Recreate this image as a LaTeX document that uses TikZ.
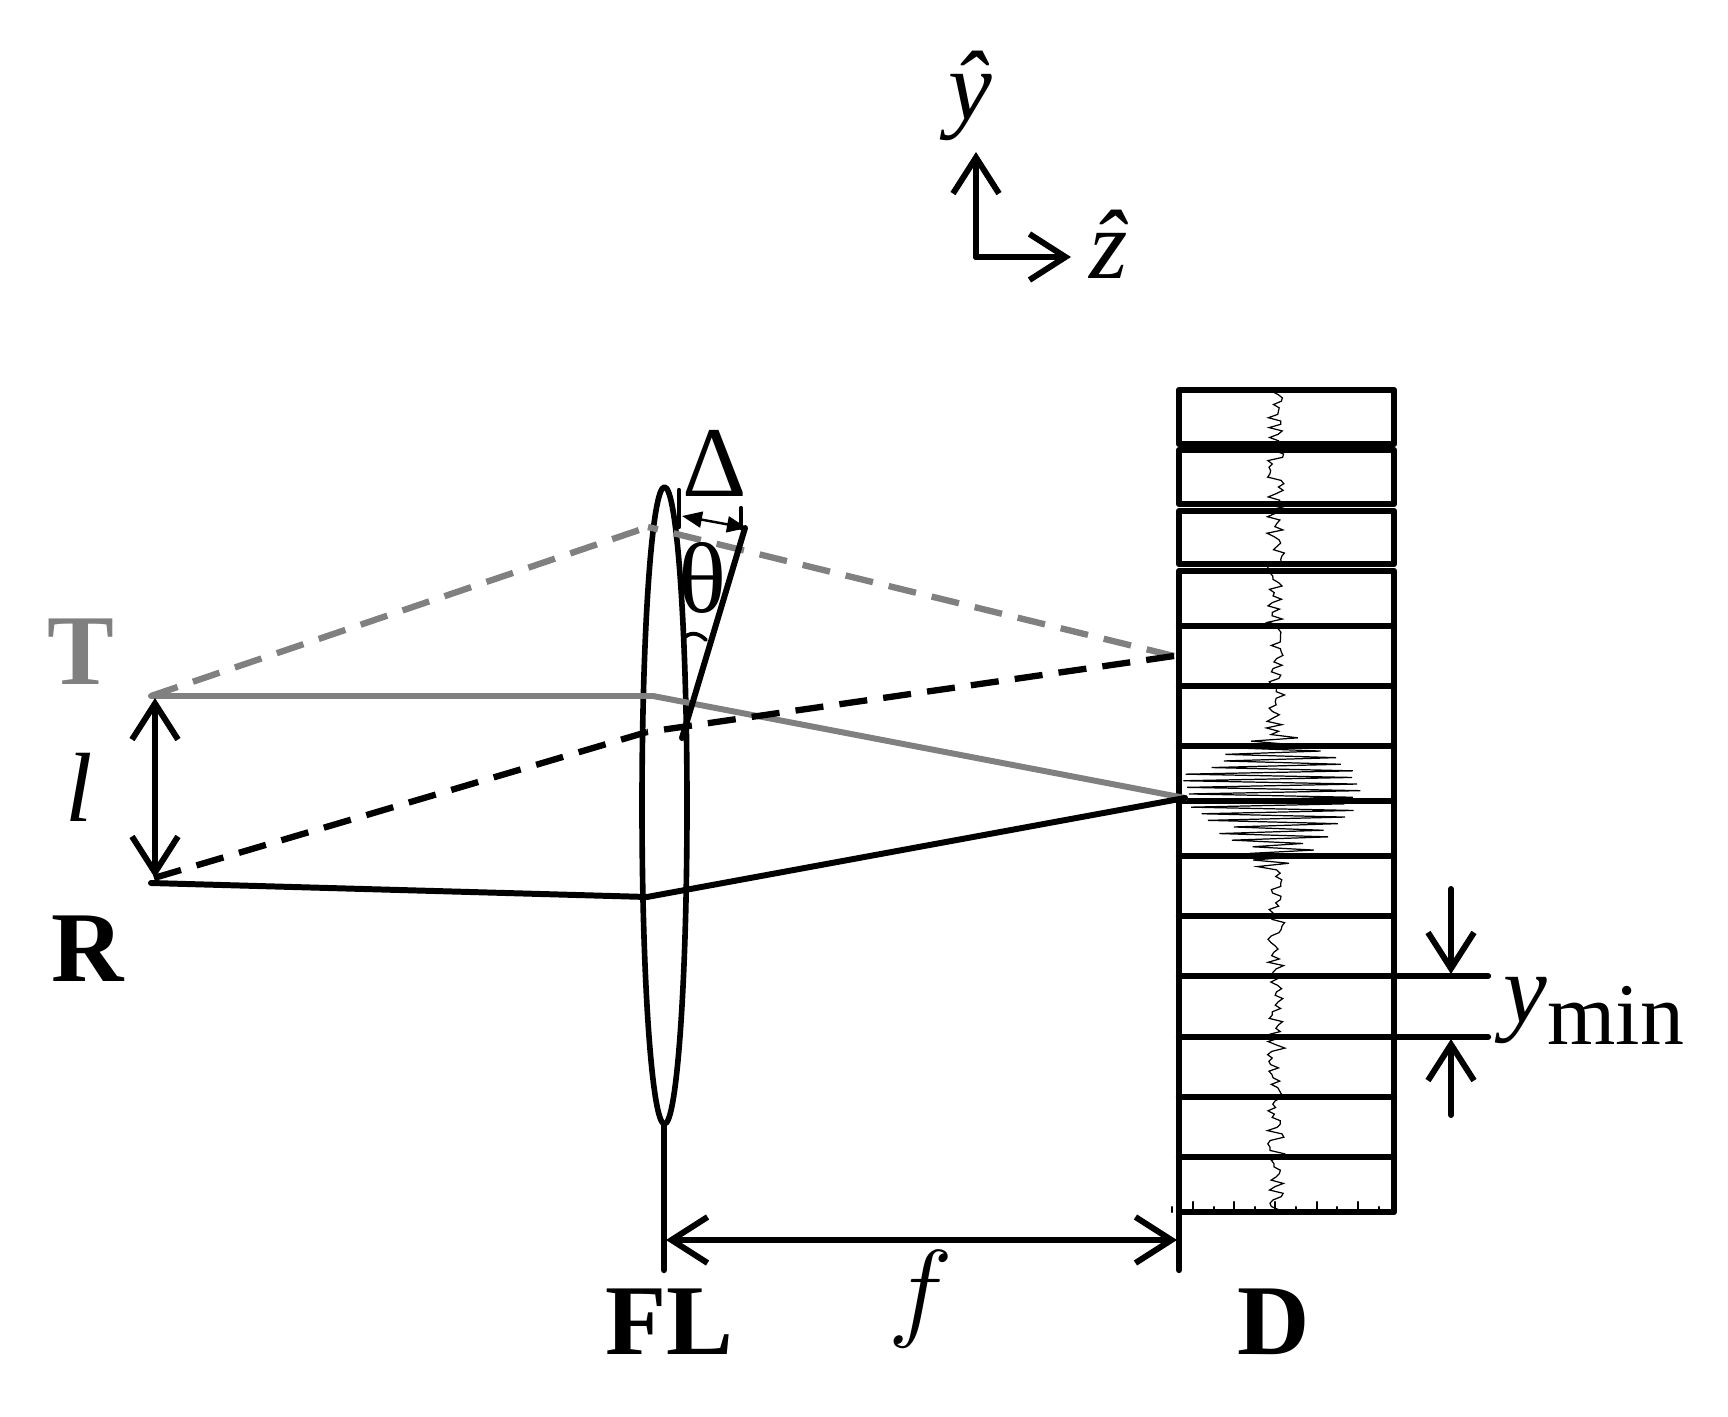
\documentclass[tikz,border=0pt]{standalone}
\usepackage{fontspec}
\setmainfont{Liberation Serif}
\usepackage{pgf,tikz}
\usetikzlibrary{arrows.meta}
\definecolor{grayray}{rgb}{0.5,0.5,0.5}
\tikzset{
  bigtext/.style={font=\fontsize{28.5}{30}\selectfont},
  italtext/.style={font=\fontsize{28}{30}\selectfont\itshape},
  barb/.style={line width=1.7pt,{Straight Barb[length=0.36cm,width=0.46cm,line width=1.7pt]}-{Straight Barb[length=0.36cm,width=0.46cm,line width=1.7pt]}},
  barbend/.style={line width=1.7pt,-{Straight Barb[length=0.36cm,width=0.46cm,line width=1.7pt]}},
  ray/.style={line width=1.7pt},
  dashray/.style={line width=1.8pt,line cap=butt,dash pattern=on 8pt off 4.6pt},
  pixelline/.style={line width=1.8pt},
  tickline/.style={line width=0.6pt},
  signalline/.style={line width=0.35pt,line join=miter}
}
\pgfmathdeclarefunction{packet}{1}{\pgfmathparse{ifthenelse(#1>6.70,0.25*max(0,1-(#1-6.70)/0.25),ifthenelse(#1>6.42,0.45+0.52*(6.70-#1)/0.28,ifthenelse(#1>6.16,0.97,ifthenelse(#1>5.60,0.97-0.72*(6.16-#1)/0.56,0.25*max(0,1-(5.60-#1)/0.2)))))}}
\begin{document}
\begin{tikzpicture}[line cap=round,line join=round,x=1.0cm,y=1.0cm]
\useasboundingbox (0,0) rectangle (17.28,14.16);
\coordinate (T) at (1.51,7.20);
\coordinate (R) at (1.51,5.33);
\coordinate (Rd) at (1.54,5.38);
\coordinate (Tlens) at (6.53,7.20);
\coordinate (Rlens) at (6.47,5.19);
\coordinate (Tdash) at (6.48,8.89);
\coordinate (Rdash) at (6.47,6.84);
\coordinate (focus) at (11.85,6.18);
\coordinate (Ddash) at (11.74,7.60);
% lens
\draw [line width=1.6pt] (6.645,6.105) ellipse (0.225 and 3.185);
\draw [pixelline] (6.64,2.92)-- (6.64,1.46);
% detector
\draw [pixelline] (11.79,10.26) rectangle (13.94,9.72);
\draw [pixelline] (11.79,9.66) rectangle (13.94,9.12);
\draw [pixelline] (11.79,9.05) rectangle (13.94,8.52);
\draw [pixelline] (11.79,8.45) rectangle (13.94,2.04);
\foreach \yline in {7.90,7.30,6.70,6.15,5.60,5.00,4.40,3.79,3.19,2.59}
  \draw [pixelline] (11.79,\yline)-- (13.94,\yline);
\draw [pixelline] (11.79,2.04)-- (11.79,1.46);
\foreach \xtick in {11.93,12.34,12.75,13.17,13.58}
  \draw [tickline] (\xtick,2.04)-- (\xtick,2.14);
\foreach \xtick in {11.72,12.14,12.55,12.96,13.37,13.79}
  \draw [tickline] (\xtick,2.04)-- (\xtick,2.09);
\pgfmathsetseed{11}
\draw [signalline] plot[variable=\k,domain=0:249,samples=250] ({12.76+cos(180*mod(\k,2))*(0.8+0.2*rnd)*packet(10.28-0.033*\k)+0.09*rand},{10.28-0.033*\k});
% rays
\draw [ray,color=grayray] (T)-- (Tlens)-- (focus);
\draw [ray] (R)-- (Rlens)-- (focus);
\draw [dashray,color=grayray] (T)-- (Tdash);
\draw [dashray,color=grayray] (Ddash)-- (Tdash);
\draw [dashray] (Rd)-- (Rdash);
\draw [dashray] (Ddash)-- (Rdash);
% tilt of the focal plane
\draw [ray] (6.82,6.78)-- (7.45,8.88);
\draw [line width=1.2pt] (6.79,9.26)-- (6.79,8.89);
\draw [line width=1.2pt] (7.41,9.08)-- (7.41,8.88);
\draw [line width=0.7pt,{Triangle[length=0.2cm,width=0.16cm]}-{Triangle[length=0.2cm,width=0.16cm]}] (6.82,9.00)-- (7.47,8.88);
\draw [line width=1.1pt] (6.85,7.79) .. controls (6.92,7.85) and (7.00,7.82) .. (7.06,7.76);
% arrows
\draw [barb] (1.55,7.18)-- (1.55,5.38);
\draw [barb] (6.66,1.76)-- (11.77,1.76);
\coordinate (origin) at (9.76,11.59);
\coordinate (yaxis) at (9.76,12.64);
\coordinate (zaxis) at (10.71,11.59);
\draw [barbend] (origin)-- (yaxis);
\draw [barbend] (origin)-- (zaxis);
\draw [pixelline] (13.00,4.40)-- (14.88,4.40);
\draw [pixelline] (13.00,3.79)-- (14.88,3.79);
\draw [barbend] (14.51,5.27)-- (14.51,4.42);
\draw [barbend] (14.51,3.01)-- (14.51,3.77);
% labels
\draw[color=grayray] (0.81,7.64) node[bigtext] (labT) {\textbf{T}};
\draw (0.88,4.67) node[bigtext] (labR) {\textbf{R}};
\draw (6.69,0.94) node[bigtext] (labFL) {\textbf{FL}};
\draw (12.74,0.94) node[bigtext] (labD) {\textbf{D}};
\draw (0.79,6.29) node[italtext] (labl) {l};
\draw (9.21,1.17) node[font=\fontsize{38}{40}\selectfont] (labf) {\scalebox{1.25}{$f$}};
\draw (9.70,13.20) node[italtext] (laby) {\^y};
\draw (11.09,11.72) node[italtext] (labz) {\^z};
\draw (15.94,4.05) node[italtext] (labmin) {y\raisebox{-6pt}{\fontsize{25}{25}\selectfont\upshape min}};
\draw (7.15,9.53) node[bigtext] (labDelta) {Δ};
\draw (7.02,8.38) node[bigtext] (labtheta) {θ};
\end{tikzpicture}
\end{document}
